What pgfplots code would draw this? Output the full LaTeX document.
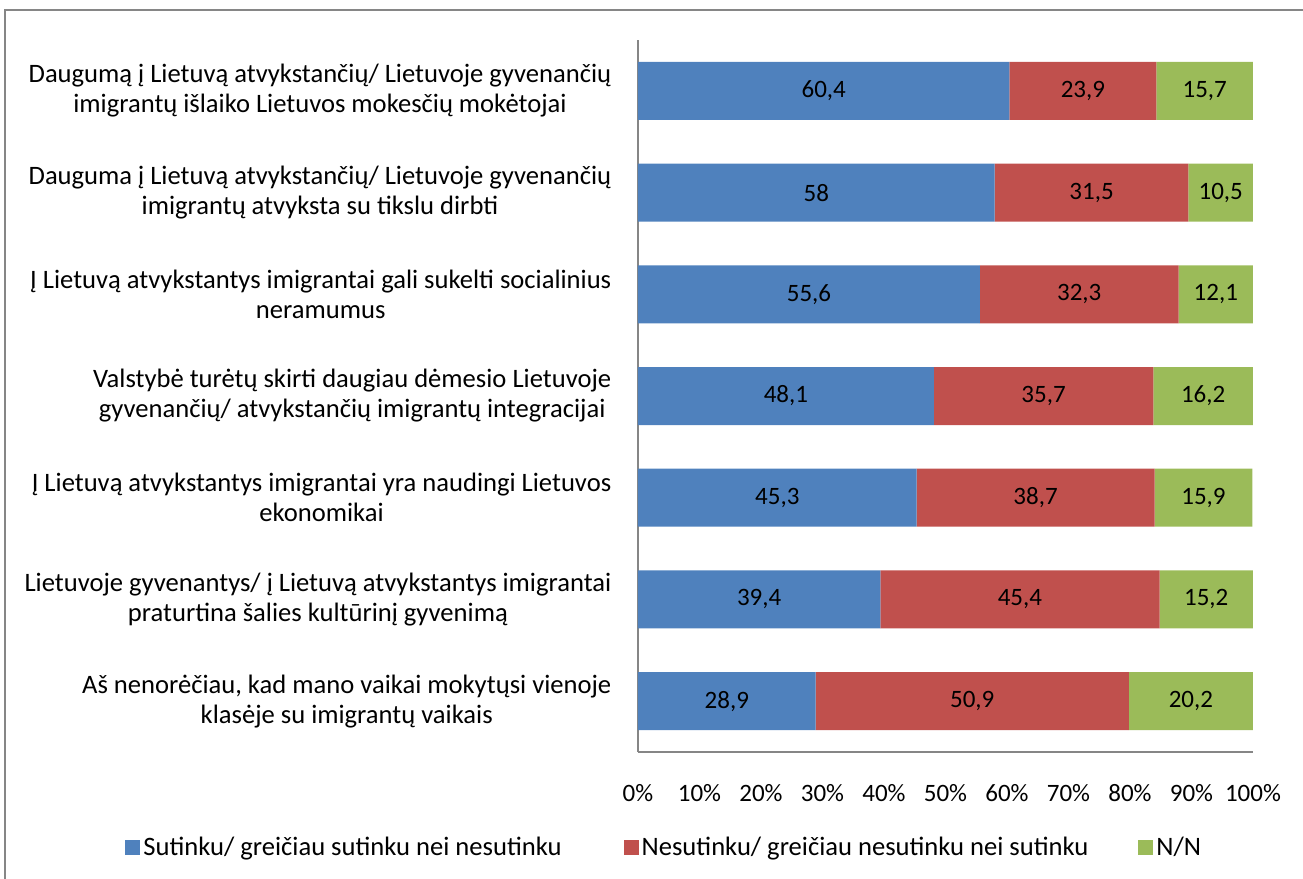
\documentclass[border=0pt]{standalone}
\usepackage{pgfplots}
\pgfplotsset{compat=1.18}
\usepackage{fontspec}
\setmainfont{Carlito}
\definecolor{cblue}{HTML}{4F81BD}
\definecolor{cred}{HTML}{C0504D}
\definecolor{cgreen}{HTML}{9BBB59}
\definecolor{axgray}{HTML}{868686}
\begin{document}
\fontsize{12.5}{15}\selectfont
\begin{tikzpicture}
\draw[axgray, line width=0.8pt] (2.5pt,-439.5pt) -- (2.5pt,-5pt) -- (651.5pt,-5pt);
\begin{axis}[
  at={(319pt,-376pt)}, anchor=south west,
  scale only axis, width=307.5pt, height=356pt,
  xbar stacked, bar width=29pt,
  xmin=0, xmax=100, ymin=-0.5, ymax=6.5,
  axis x line*=bottom, axis y line*=left,
  axis line style={axgray, line width=0.8pt, -},
  tick style={draw=none}, major tick length=0pt,
  xtick={0,10,...,100},
  xticklabels={0\%,10\%,20\%,30\%,40\%,50\%,60\%,70\%,80\%,90\%,100\%},
  xticklabel style={yshift=-12pt, font=\fontsize{12.5}{15}\selectfont},
  ytick={0,...,6},
  yticklabels={
    {Aš nenorėčiau, kad mano vaikai mokytųsi vienoje\\klasėje su imigrantų vaikais},
    {Lietuvoje gyvenantys/ į Lietuvą atvykstantys imigrantai\\praturtina šalies kultūrinį gyvenimą},
    {Į Lietuvą atvykstantys imigrantai yra naudingi Lietuvos\\ekonomikai},
    {Valstybė turėtų skirti daugiau dėmesio Lietuvoje\\gyvenančių/ atvykstančių imigrantų integracijai},
    {Į Lietuvą atvykstantys imigrantai gali sukelti socialinius\\neramumus},
    {Dauguma į Lietuvą atvykstančių/ Lietuvoje gyvenančių\\imigrantų atvyksta su tikslu dirbti},
    {Daugumą į Lietuvą atvykstančių/ Lietuvoje gyvenančių\\imigrantų išlaiko Lietuvos mokesčių mokėtojai}},
  yticklabel style={align=center, xshift=-9pt, font=\fontsize{13.3}{15}\selectfont},
  nodes near coords={\pgfmathprintnumber[use comma, assume math mode=true]{\pgfplotspointmeta}},
  every node near coord/.style={anchor=center, black, font=\fontsize{12.5}{15}\selectfont},
  legend columns=3,
  legend style={draw=none, fill=none, at={(-0.8341,-0.1348)}, anchor=west, inner sep=0pt,
    font=\fontsize{13.3}{15}\selectfont,
    nodes={inner xsep=1.5pt},
    /tikz/column 2/.style={column sep=29.5pt},
    /tikz/column 4/.style={column sep=23.5pt}},
  legend image code/.code={\fill[#1] (0pt,-3.75pt) rectangle (7.5pt,3.75pt);},
]
\addplot[fill=cblue, draw=none] coordinates {(28.9,0) (39.4,1) (45.3,2) (48.1,3) (55.6,4) (58,5) (60.4,6)};
\addplot[fill=cred, draw=none] coordinates {(50.9,0) (45.4,1) (38.7,2) (35.7,3) (32.3,4) (31.5,5) (23.9,6)};
\addplot[fill=cgreen, draw=none] coordinates {(20.2,0) (15.2,1) (15.9,2) (16.2,3) (12.1,4) (10.5,5) (15.7,6)};
\legend{Sutinku/ greičiau sutinku nei nesutinku, Nesutinku/ greičiau nesutinku nei sutinku, N/N}
\end{axis}
\pgfresetboundingbox
\useasboundingbox (0,0) rectangle (651.5pt,-439.5pt);
\end{tikzpicture}
\end{document}
